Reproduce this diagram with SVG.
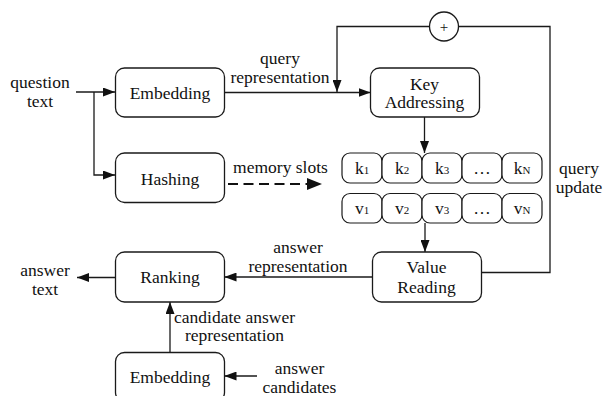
<svg xmlns="http://www.w3.org/2000/svg" width="603" height="396" viewBox="0 0 603 396" font-family="'Liberation Serif', 'DejaVu Serif', serif">
  <style>
    text { font-family: 'Liberation Serif', 'DejaVu Serif', serif; font-size: 17.5px; fill: #111; text-anchor: middle; }
    .box { fill: #fff; stroke: #1a1a1a; stroke-width: 1.3; }
    .slot { fill: #fff; stroke: #1a1a1a; stroke-width: 1.2; }
    .edge { fill: none; stroke: #1a1a1a; stroke-width: 1.3; }
    .dash { fill: none; stroke: #111; stroke-width: 2.2; stroke-dasharray: 10 5.5; }
    .sub { font-size: 11px; }
  </style>
  <defs>
    <marker id="arr" markerUnits="userSpaceOnUse" markerWidth="12" markerHeight="9" refX="12" refY="4.5" orient="auto">
      <path d="M0,0 L12,4.5 L0,9 z" fill="#111"/>
    </marker>
  </defs>

  <!-- connectors -->
  <g id="connectors">
    <path class="edge" d="M76,92 H115" marker-end="url(#arr)"/>
    <path class="edge" d="M94,92 V175 H115" marker-end="url(#arr)"/>
    <path class="edge" d="M224.5,92.5 H370.5" marker-end="url(#arr)"/>
    <path class="dash" d="M228,184 H307"/>
    <path fill="#111" d="M307,178 L322,184 L307,190 z"/>
    <path class="edge" d="M424.5,117 V153" marker-end="url(#arr)"/>
    <path class="edge" d="M425,223 V252" marker-end="url(#arr)"/>
    <path class="edge" d="M372.5,277 H224.5" marker-end="url(#arr)"/>
    <path class="edge" d="M115.5,277.5 H77" marker-end="url(#arr)"/>
    <path class="edge" d="M170,352 V302" marker-end="url(#arr)"/>
    <path class="edge" d="M257,376 H224.5" marker-end="url(#arr)"/>
    <!-- query update loop -->
    <path class="edge" d="M481.5,272.5 H550 V26.5 H458.5"/>
    <path class="edge" d="M429.5,26.5 H337 V92" marker-end="url(#arr)"/>
    <text x="280" y="64">query</text>
    <text x="280" y="82.5">representation</text>
    <text x="280.5" y="173">memory slots</text>
    <text x="298" y="253">answer</text>
    <text x="298" y="271.5">representation</text>
    <text x="579" y="174.25">query</text>
    <text x="579" y="192.75">update</text>
    <text x="234.5" y="322.5">candidate answer</text>
    <text x="234.5" y="340.5">representation</text>
  </g>

  <!-- inputs / outputs -->
  <g id="question-text">
    <text x="40" y="88">question</text>
    <text x="40" y="107">text</text>
  </g>
  <g id="answer-text">
    <text x="45" y="276">answer</text>
    <text x="45" y="294.5">text</text>
  </g>
  <g id="answer-candidates">
    <text x="299.5" y="374">answer</text>
    <text x="299.5" y="392.5">candidates</text>
  </g>

  <!-- processing nodes -->
  <g id="embedding-q">
    <rect class="box" x="115.5" y="68" width="109" height="49" rx="9"/>
    <text x="170" y="99">Embedding</text>
  </g>
  <g id="hashing">
    <rect class="box" x="115.5" y="153" width="109" height="49.5" rx="9"/>
    <text x="170" y="185">Hashing</text>
  </g>
  <g id="ranking">
    <rect class="box" x="115.5" y="252" width="109" height="50" rx="9"/>
    <text x="170" y="283">Ranking</text>
  </g>
  <g id="embedding-a">
    <rect class="box" x="115.5" y="352.5" width="109" height="49" rx="9"/>
    <text x="170" y="383">Embedding</text>
  </g>
  <g id="key-addressing">
    <rect class="box" x="370.5" y="68" width="109" height="49" rx="9"/>
    <text x="424.5" y="89.5">Key</text>
    <text x="424.5" y="108">Addressing</text>
  </g>
  <g id="value-reading">
    <rect class="box" x="372.5" y="252" width="109" height="50" rx="9"/>
    <text x="426.5" y="273">Value</text>
    <text x="426.5" y="293">Reading</text>
  </g>
  <g id="sum">
    <circle class="box" cx="444" cy="26.5" r="14.5"/>
    <text x="444" y="32" style="font-size:15px">+</text>
  </g>

  <!-- memory key slots -->
  <g id="keys">
    <rect class="slot" x="342" y="153" width="40" height="30" rx="8"/>
    <rect class="slot" x="382" y="153" width="40" height="30" rx="8"/>
    <rect class="slot" x="422" y="153" width="40" height="30" rx="8"/>
    <rect class="slot" x="462" y="153" width="40" height="30" rx="8"/>
    <rect class="slot" x="502" y="153" width="40" height="30" rx="8"/>
    <text x="362" y="174">k<tspan class="sub">1</tspan></text>
    <text x="402" y="174">k<tspan class="sub">2</tspan></text>
    <text x="442" y="174">k<tspan class="sub">3</tspan></text>
    <text x="482" y="174">…</text>
    <text x="522" y="174">k<tspan class="sub">N</tspan></text>
  </g>

  <!-- memory value slots -->
  <g id="values">
    <rect class="slot" x="342" y="193.5" width="40" height="29.5" rx="8"/>
    <rect class="slot" x="382" y="193.5" width="40" height="29.5" rx="8"/>
    <rect class="slot" x="422" y="193.5" width="40" height="29.5" rx="8"/>
    <rect class="slot" x="462" y="193.5" width="40" height="29.5" rx="8"/>
    <rect class="slot" x="502" y="193.5" width="40" height="29.5" rx="8"/>
    <text x="362" y="214">v<tspan class="sub">1</tspan></text>
    <text x="402" y="214">v<tspan class="sub">2</tspan></text>
    <text x="442" y="214">v<tspan class="sub">3</tspan></text>
    <text x="482" y="214">…</text>
    <text x="522" y="214">v<tspan class="sub">N</tspan></text>
  </g>
</svg>
